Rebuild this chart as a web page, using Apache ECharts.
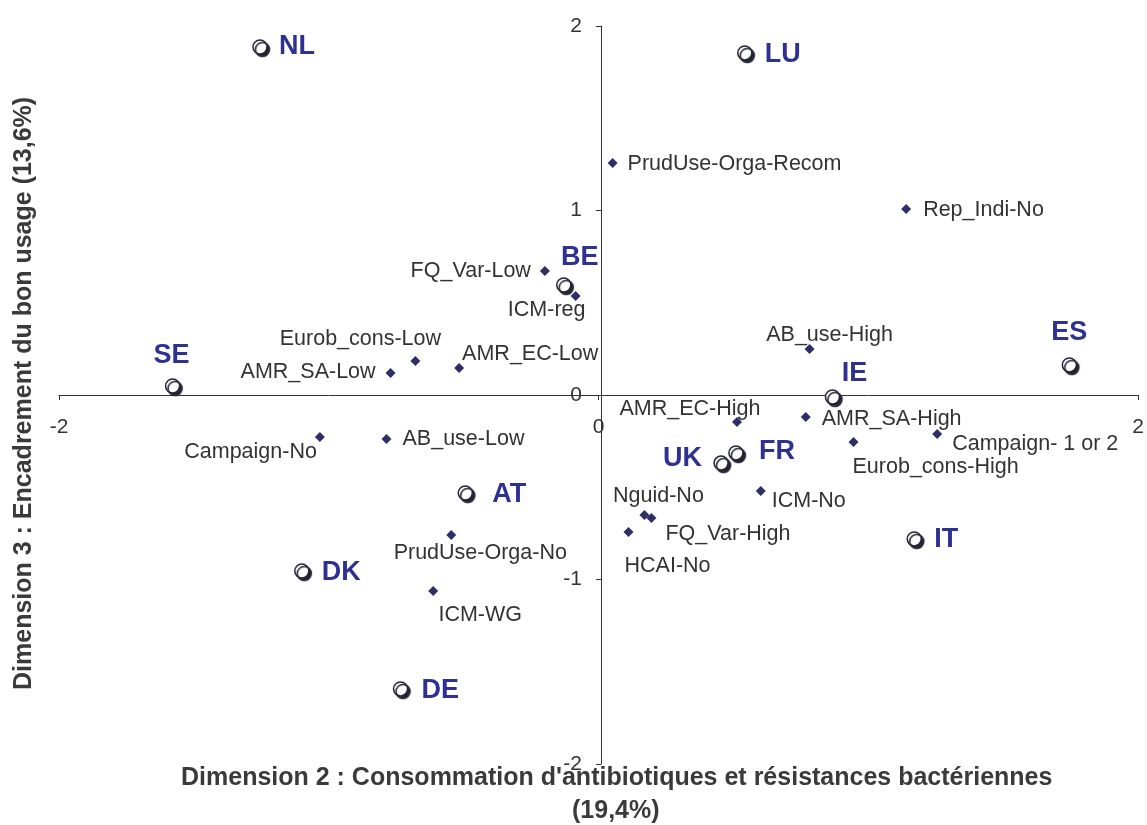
<!DOCTYPE html>
<html>
<head>
<meta charset="utf-8">
<script src="https://cdn.jsdelivr.net/npm/echarts@6/dist/echarts.min.js"></script>
<style>
  html, body { margin: 0; padding: 0; background: #ffffff; }
  #chart { width: 1147px; height: 825px; }
</style>
</head>
<body>
<div id="chart"></div>
<script>
// Countries (supplementary individuals)
const countryNames = ['NL', 'LU', 'BE', 'SE', 'ES', 'IE', 'UK', 'FR', 'AT', 'IT', 'DK', 'DE'];
const countryX = [-1.255, 0.542, -0.129, -1.579, 1.745, 0.867, 0.454, 0.509, -0.494, 1.170, -1.100, -0.734];
const countryY = [1.886, 1.854, 0.596, 0.049, 0.163, -0.011, -0.369, -0.314, -0.531, -0.780, -0.954, -1.593];

// Variable modalities
const modalityNames = [
  'PrudUse-Orga-Recom', 'Rep_Indi-No', 'FQ_Var-Low', 'ICM-reg', 'AB_use-High',
  'Eurob_cons-Low', 'AMR_SA-Low', 'AMR_EC-Low', 'AMR_EC-High', 'AMR_SA-High',
  'Campaign- 1 or 2', 'Eurob_cons-High', 'Campaign-No', 'AB_use-Low', 'ICM-No',
  'Nguid-No', 'FQ_Var-High', 'HCAI-No', 'PrudUse-Orga-No', 'ICM-WG'
];
const modalityX = [0.052, 1.140, -0.199, -0.085, 0.782, -0.679, -0.771, -0.517, 0.513, 0.768,
                   1.255, 0.945, -1.033, -0.786, 0.601, 0.170, 0.196, 0.111, -0.546, -0.613];
const modalityY = [1.257, 1.008, 0.672, 0.537, 0.249, 0.184, 0.119, 0.146, -0.146, -0.119,
                   -0.211, -0.255, -0.228, -0.238, -0.520, -0.650, -0.667, -0.743, -0.759, -1.062];

// Axis ticks
const xTicks = [-2, 0, 2];
const yTicks = [-2, -1, 0, 1, 2];

// Label placement: [align, dx, dy] relative to the mark centre
const modalityLabelPos = {
  'PrudUse-Orga-Recom': ['left', 15, 1],
  'Rep_Indi-No': ['left', 17, 1],
  'FQ_Var-Low': ['right', -14, 0],
  'ICM-reg': ['center', -29, 14],
  'AB_use-High': ['center', 20, -14],
  'Eurob_cons-Low': ['center', -55, -22],
  'AMR_SA-Low': ['right', -15, -1],
  'AMR_EC-Low': ['left', 3, -14],
  'AMR_EC-High': ['center', -47, -13],
  'AMR_SA-High': ['left', 16, 2],
  'Campaign- 1 or 2': ['left', 15, 10],
  'Eurob_cons-High': ['left', -1, 25],
  'Campaign-No': ['right', -3, 15],
  'AB_use-Low': ['left', 16, 0],
  'ICM-No': ['left', 11, 10],
  'Nguid-No': ['center', 14, -19],
  'FQ_Var-High': ['left', 14, 16],
  'HCAI-No': ['center', 39, 34],
  'PrudUse-Orga-No': ['center', 29, 18],
  'ICM-WG': ['center', 47, 24]
};
const countryLabelPos = {
  'NL': ['left', 19, 0],
  'LU': ['left', 20, 2],
  'BE': ['center', 16, -27],
  'SE': ['center', -1, -30],
  'ES': ['center', 0, -32],
  'IE': ['center', 22, -23],
  'UK': ['right', -19, -5],
  'FR': ['left', 23, -1],
  'AT': ['left', 27, 2],
  'IT': ['left', 20, 1],
  'DK': ['left', 20, 2],
  'DE': ['left', 21, 2]
};

function buildPoints(names, xs, ys, placement) {
  return names.map((n, i) => {
    const p = placement[n];
    return {
      name: n,
      value: [xs[i], ys[i]],
      label: { align: p[0], offset: [p[1], p[2]] }
    };
  });
}

const textFont = '"Liberation Sans", Arial, sans-serif';
const gridLeft = 59, gridRight = 4, gridTop = 26, gridBottom = 61;
const W = 1147, H = 825;
const plotW = W - gridLeft - gridRight;
const plotH = H - gridTop - gridBottom;
// shift both axes so they cross at the origin, labels included
const xAxisShift = -plotH * (0 - yTicks[0]) / (yTicks[yTicks.length - 1] - yTicks[0]);
const yAxisShift = -plotW * (0 - xTicks[0]) / (xTicks[xTicks.length - 1] - xTicks[0]);

const chart = echarts.init(document.getElementById('chart'), null, { renderer: 'canvas' });

chart.setOption({
  animation: false,
  backgroundColor: '#ffffff',
  grid: { left: gridLeft, right: gridRight, top: gridTop, bottom: gridBottom, containLabel: false },
  xAxis: {
    type: 'value', min: xTicks[0], max: xTicks[xTicks.length - 1], interval: 2,
    position: 'bottom', offset: xAxisShift,
    axisLine: { onZero: false, lineStyle: { color: '#333333', width: 1 } },
    axisTick: { show: true, length: 5, lineStyle: { color: '#333333' } },
    axisLabel: { margin: 22, color: '#333333', fontSize: 21, fontFamily: textFont },
    splitLine: { show: false }
  },
  yAxis: {
    type: 'value', min: yTicks[0], max: yTicks[yTicks.length - 1], interval: 1,
    position: 'left', offset: yAxisShift,
    axisLine: { onZero: false, lineStyle: { color: '#333333', width: 1 } },
    axisTick: { show: true, length: 5, lineStyle: { color: '#333333' } },
    axisLabel: { margin: 19, color: '#333333', fontSize: 21, fontFamily: textFont },
    splitLine: { show: false }
  },
  graphic: [
    {
      type: 'text', left: 181, top: 766,
      style: {
        text: "Dimension 2 : Consommation d'antibiotiques et résistances bactériennes",
        font: 'bold 25px ' + textFont, fill: '#3a3a3a'
      }
    },
    {
      type: 'text', left: 572, top: 799,
      style: { text: '(19,4%)', font: 'bold 25px ' + textFont, fill: '#3a3a3a' }
    },
    {
      type: 'text', x: 12, y: 690, rotation: Math.PI / 2,
      style: {
        text: 'Dimension 3 : Encadrement du bon usage (13,6%)',
        font: 'bold 25px ' + textFont, fill: '#3a3a3a'
      }
    }
  ],
  series: [
    {
      type: 'scatter',
      symbol: 'diamond',
      symbolSize: 10,
      itemStyle: { color: '#2f2f66', opacity: 1 },
      label: {
        show: true, position: 'inside', verticalAlign: 'middle', opacity: 1,
        formatter: '{b}', color: '#333333', fontSize: 21.5, fontFamily: textFont
      },
      data: buildPoints(modalityNames, modalityX, modalityY, modalityLabelPos)
    },
    {
      type: 'scatter',
      symbol: 'circle',
      symbolSize: 14,
      itemStyle: {
        color: '#ffffff', borderColor: '#26263a', borderWidth: 1.5, opacity: 1,
        shadowColor: '#222230', shadowBlur: 1, shadowOffsetX: 2.5, shadowOffsetY: 2.5
      },
      label: {
        show: true, position: 'inside', verticalAlign: 'middle', opacity: 1,
        formatter: '{b}', color: '#2e3192', fontSize: 27, fontWeight: 'bold', fontFamily: textFont
      },
      data: buildPoints(countryNames, countryX, countryY, countryLabelPos)
    }
  ]
});
</script>
</body>
</html>
